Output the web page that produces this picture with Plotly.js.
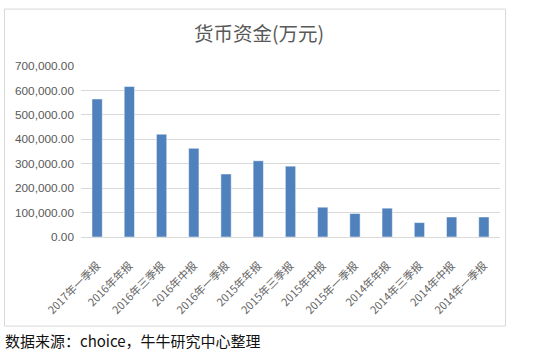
<!DOCTYPE html>
<html>
<head>
<meta charset="utf-8">
<script src="https://cdn.plot.ly/plotly-3.0.1.min.js"></script>
<style>
html,body{margin:0;padding:0;background:#fff;}
#chart{width:540px;height:357px;}
</style>
</head>
<body>
<div id="chart"></div>
<script>
var categories = ["2017年一季报","2016年年报","2016年三季报","2016年中报","2016年一季报","2015年年报","2015年三季报","2015年中报","2015年一季报","2014年年报","2014年三季报","2014年中报","2014年一季报"];
var values = [565000, 616000, 421000, 363000, 258000, 312000, 290000, 122000, 96000, 118000, 59000, 82000, 82000];
var tickVals = [0, 100000, 200000, 300000, 400000, 500000, 600000, 700000];

var trace = {
  type: 'bar',
  x: categories,
  y: values,
  marker: {color: '#4f81bd', line: {color: '#ffffff', width: 0.5}},
  hoverinfo: 'x+y'
};

var layout = {
  width: 540,
  height: 357,
  margin: {l: 81, r: 40, t: 66, b: 120},
  paper_bgcolor: '#ffffff',
  plot_bgcolor: '#ffffff',
  bargap: 0.68,
  showlegend: false,
  font: {family: 'Noto Sans CJK SC, Noto Sans, sans-serif', color: '#595959'},
  title: {
    text: '货币资金(万元)',
    font: {size: 19.5, color: '#595959', family: 'Noto Sans CJK SC, sans-serif'},
    x: 0.425, xanchor: 'center', xref: 'paper',
    y: 0.905, yanchor: 'middle'
  },
  xaxis: {
    type: 'category',
    tickangle: -45,
    tickfont: {size: 11, color: '#666666'},
    showgrid: false,
    showline: false,
    ticks: '',
    ticklabelstandoff: 19,
    automargin: false,
    fixedrange: true
  },
  yaxis: {
    range: [0, 700000],
    tickvals: tickVals,
    tickformat: ',.2f',
    tickfont: {size: 11.8, color: '#595959', family: 'Liberation Sans, Arial, sans-serif'},
    showgrid: true,
    gridcolor: '#d9d9d9',
    gridwidth: 1,
    zeroline: true,
    zerolinecolor: '#d9d9d9',
    zerolinewidth: 1,
    showline: false,
    ticks: '',
    ticklabelstandoff: 6,
    automargin: false,
    fixedrange: true
  },
  shapes: [{
    type: 'rect', xref: 'paper', yref: 'paper',
    x0: -0.1826, x1: 1.0131, y0: -0.521, y1: 1.333,
    line: {color: '#d9d9d9', width: 1},
    fillcolor: 'rgba(0,0,0,0)',
    layer: 'below'
  }],
  annotations: [{
    text: '数据来源：choice，牛牛研究中心整理',
    xref: 'paper', yref: 'paper',
    x: -0.187, xanchor: 'left',
    y: -0.605, yanchor: 'middle',
    showarrow: false,
    font: {size: 15, color: '#111111', family: 'Noto Sans CJK SC, DejaVu Sans Mono, monospace'}
  }]
};

Plotly.newPlot('chart', [trace], layout, {displayModeBar: false, staticPlot: true});
</script>
</body>
</html>
